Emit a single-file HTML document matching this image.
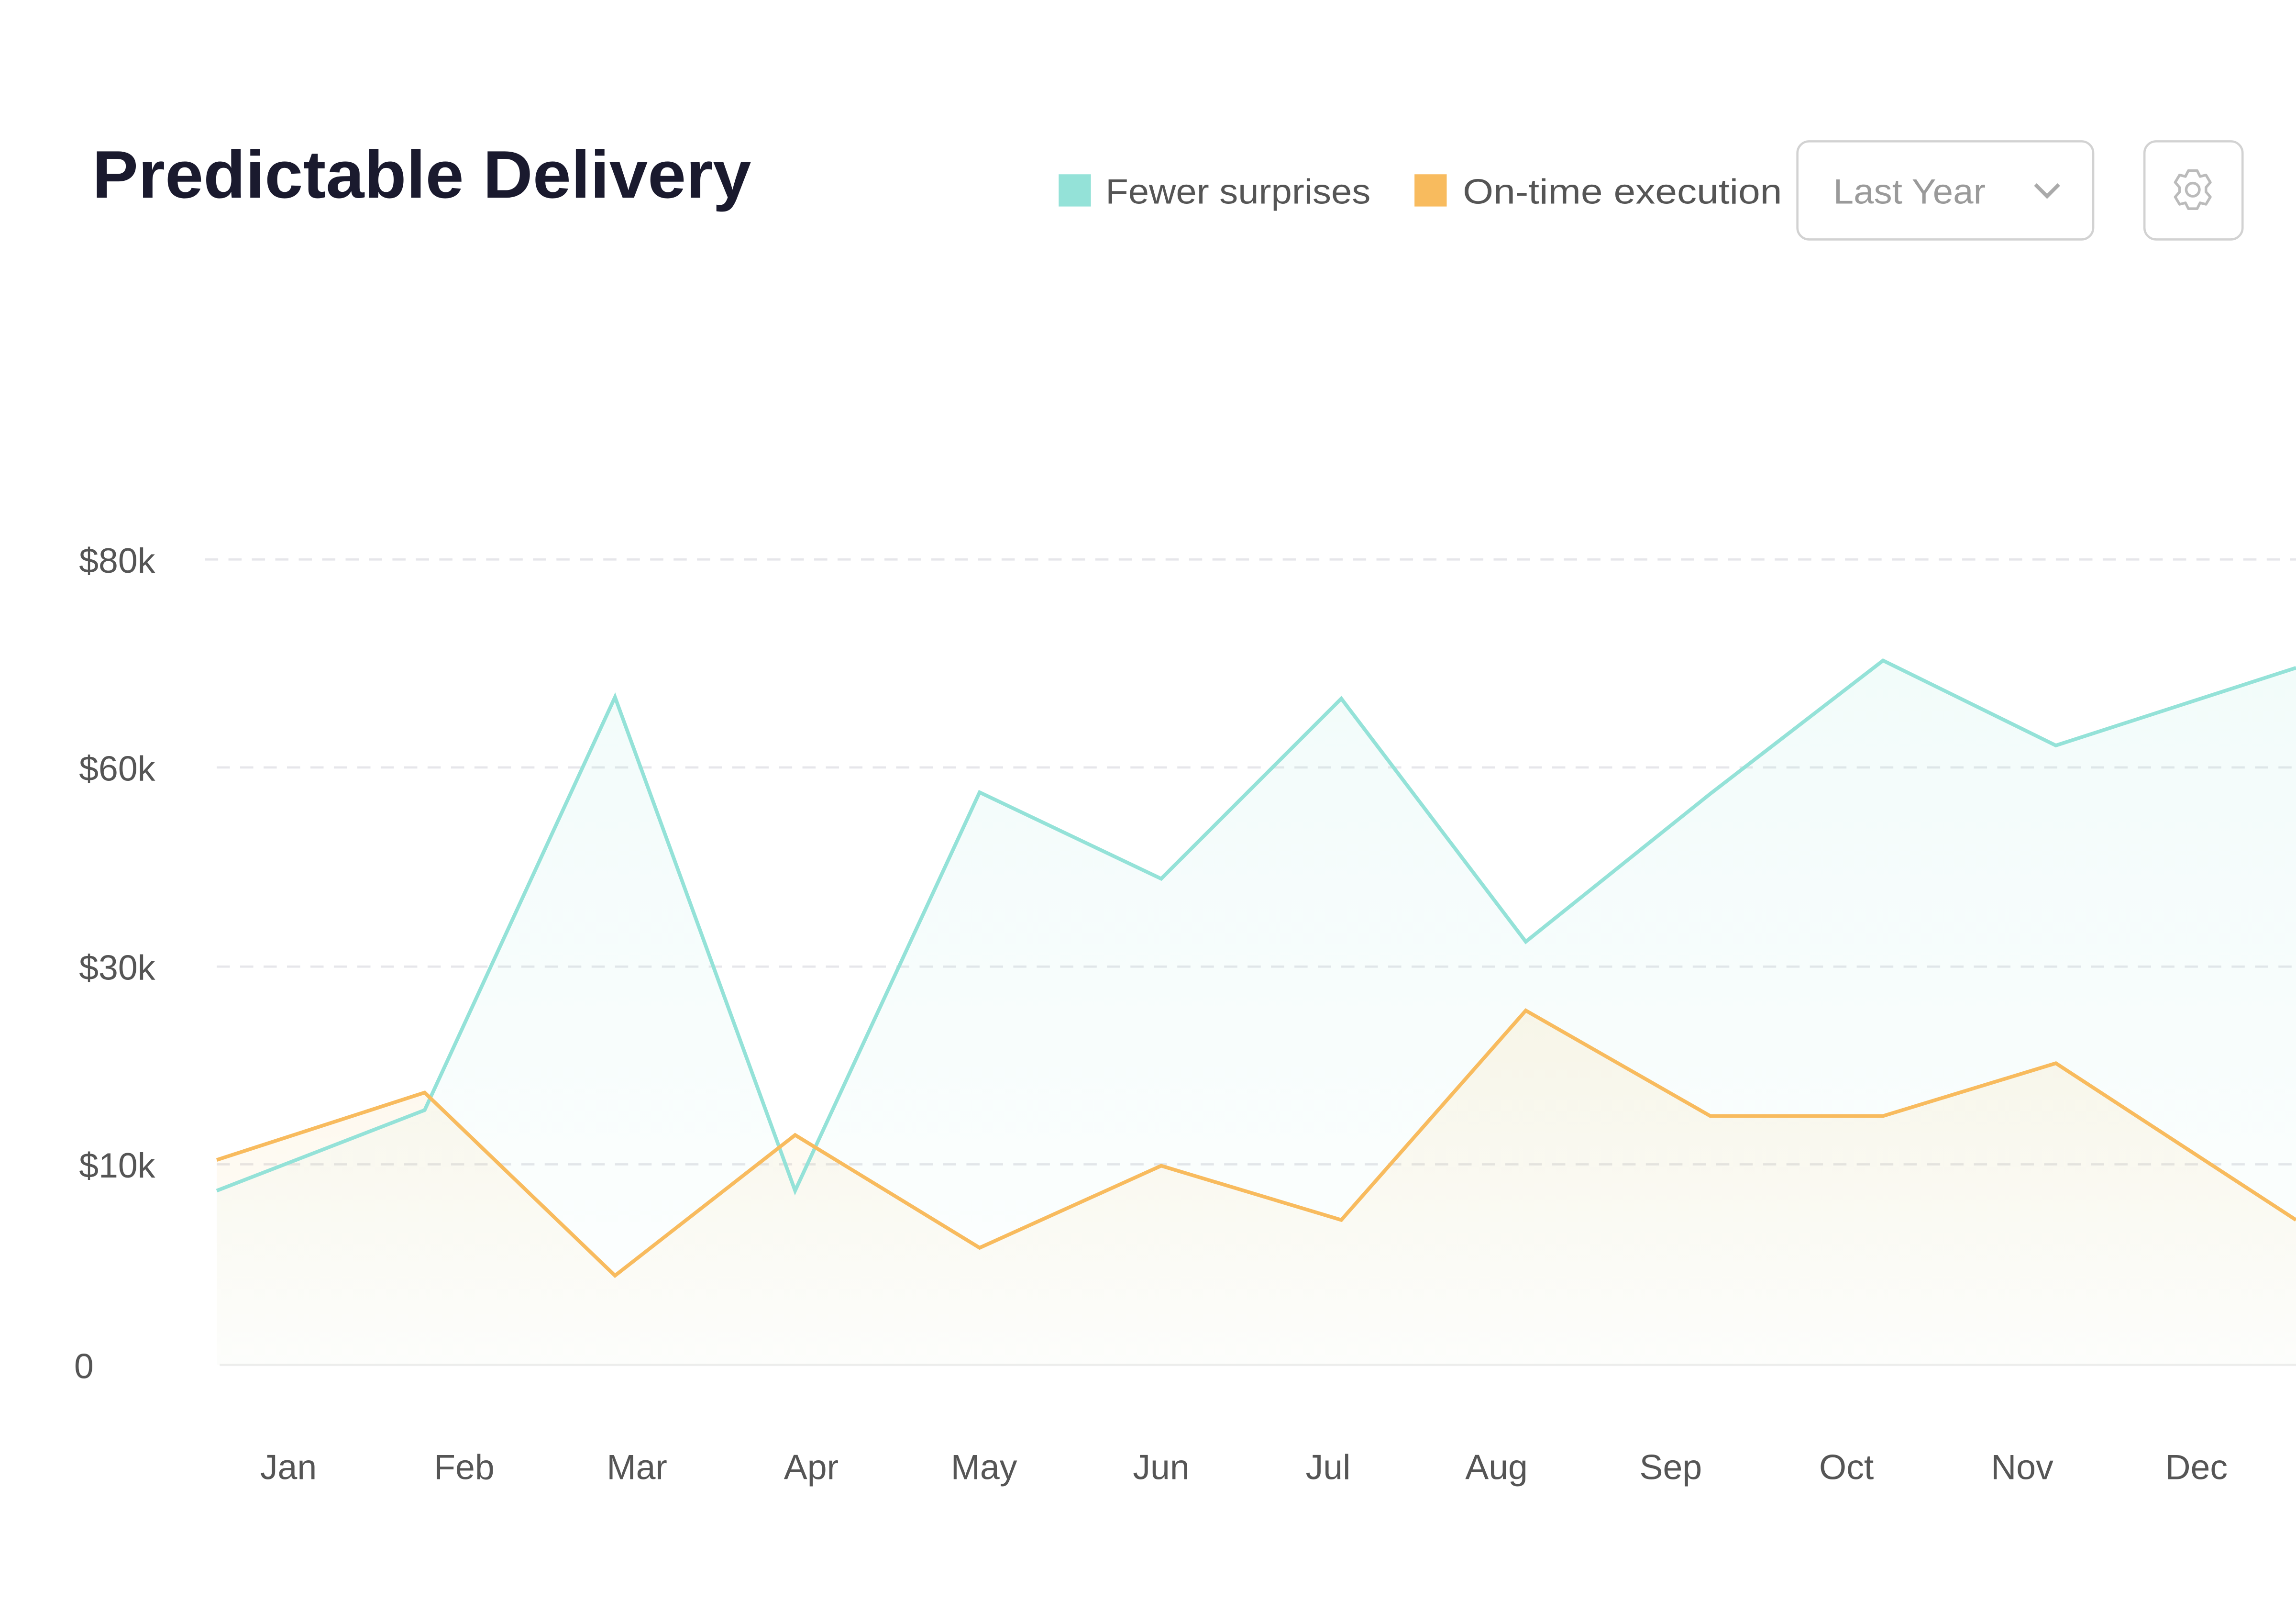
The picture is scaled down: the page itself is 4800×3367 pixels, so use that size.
<!DOCTYPE html>
<html><head><meta charset="utf-8"><style>
html,body{margin:0;padding:0;background:#fff;}
svg{display:block;}
text{font-family:"Liberation Sans",sans-serif;}
</style></head><body>
<svg width="4800" height="3367" viewBox="0 0 1568 1100" preserveAspectRatio="none" xmlns="http://www.w3.org/2000/svg">
<defs>
<linearGradient id="gt" x1="0" y1="0" x2="0" y2="1"><stop offset="0" stop-color="#94e2d8" stop-opacity="0.12"/><stop offset="1" stop-color="#94e2d8" stop-opacity="0.02"/></linearGradient>
<linearGradient id="go" x1="0" y1="0" x2="0" y2="1"><stop offset="0" stop-color="#f5c56b" stop-opacity="0.14"/><stop offset="1" stop-color="#f5c56b" stop-opacity="0.02"/></linearGradient>
</defs>
<rect width="1568" height="1100" fill="#fff"/>
<text x="63" y="135" font-size="46" font-weight="bold" fill="#1a1a2e" textLength="450" lengthAdjust="spacingAndGlyphs">Predictable Delivery</text>
<rect x="723" y="119" width="22" height="22" fill="#94e2d8"/>
<text x="755" y="139" font-size="24" fill="#555" textLength="181" lengthAdjust="spacingAndGlyphs">Fewer surprises</text>
<rect x="966" y="119" width="22" height="22" fill="#f8bb5e"/>
<text x="999" y="139" font-size="24" fill="#555" textLength="218" lengthAdjust="spacingAndGlyphs">On-time execution</text>
<rect x="1227.5" y="96.5" width="202" height="67" rx="8" fill="#fff" stroke="#d2d2d2" stroke-width="1.5"/>
<text x="1252" y="139" font-size="24" fill="#9a9a9a" textLength="104" lengthAdjust="spacingAndGlyphs">Last Year</text>
<path d="M1390 126 l8 8 l8 -8" fill="none" stroke="#aaa" stroke-width="2.5"/>
<rect x="1464.5" y="96.5" width="67" height="67" rx="8" fill="#fff" stroke="#d2d2d2" stroke-width="1.5"/>
<g transform="translate(1497.5,129.5)" fill="none" stroke="#bbb" stroke-width="1.8">
<circle r="4.5"/>
<path d="M-3 -13 l6 0 l2 4 l4 -1 l3 5 l-3 3.5 l0 3 l3 3.5 l-3 5 l-4 -1 l-2 4 l-6 0 l-2 -4 l-4 1 l-3 -5 l3 -3.5 l0 -3 l-3 -3.5 l3 -5 l4 1 z" stroke-linejoin="round"/>
</g>
<g stroke="#e6e6ea" stroke-width="1.5" stroke-dasharray="9 7">
<line x1="140" y1="382" x2="1568" y2="382"/>
<line x1="148" y1="524" x2="1568" y2="524"/>
<line x1="148" y1="660" x2="1568" y2="660"/>
<line x1="148" y1="795" x2="1568" y2="795"/>
</g>
<line x1="150" y1="932" x2="1568" y2="932" stroke="#eee" stroke-width="1.5"/>
<g font-size="24" fill="#555" text-anchor="end">
<text x="106" y="391">$80k</text>
<text x="106" y="533">$60k</text>
<text x="106" y="669">$30k</text>
<text x="106" y="804">$10k</text>
<text x="64" y="941">0</text>
</g>
<g font-size="24" fill="#555" text-anchor="middle">
<text x="197" y="1010">Jan</text><text x="317" y="1010">Feb</text><text x="435" y="1010">Mar</text><text x="554" y="1010">Apr</text><text x="672" y="1010">May</text><text x="793" y="1010">Jun</text><text x="907" y="1010">Jul</text><text x="1022" y="1010">Aug</text><text x="1141" y="1010">Sep</text><text x="1261" y="1010">Oct</text><text x="1381" y="1010">Nov</text><text x="1500" y="1010">Dec</text>
</g>
<path d="M148 813 L290 758 L420 476 L543 813 L669 541 L793 600 L916 477 L1042 643 L1168 542 L1286 451 L1404 509 L1568 456 L1568 932 L148 932 Z" fill="url(#gt)"/>
<path d="M148 792 L290 746 L420 871 L543 775 L669 852 L793 796 L916 833 L1042 690 L1168 762 L1286 762 L1404 726 L1568 833 L1568 932 L148 932 Z" fill="url(#go)"/>
<polyline points="148,813 290,758 420,476 543,813 669,541 793,600 916,477 1042,643 1168,542 1286,451 1404,509 1568,456" fill="none" stroke="#94e2d8" stroke-width="2.5"/>
<polyline points="148,792 290,746 420,871 543,775 669,852 793,796 916,833 1042,690 1168,762 1286,762 1404,726 1568,833" fill="none" stroke="#f8bb5e" stroke-width="2.5"/>
</svg>
</body></html>
